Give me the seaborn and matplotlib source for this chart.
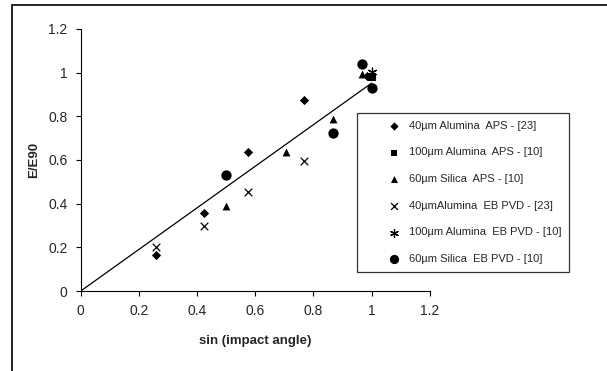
import pandas as pd
import seaborn as sns
import matplotlib.pyplot as plt
from matplotlib.patches import Rectangle

# series
labels = ['40µm Alumina  APS - [23]', '100µm Alumina  APS - [10]', '60µm Silica  APS - [10]',
          '40µmAlumina  EB PVD - [23]', '100µm Alumina  EB PVD - [10]', '60µm Silica  EB PVD - [10]']
x_alu40_aps = [0.259, 0.423, 0.574, 0.766, 0.985]
y_alu40_aps = [0.163, 0.359, 0.638, 0.873, 0.985]
x_alu100_aps = [1.0]
y_alu100_aps = [0.98]
x_sil60_aps = [0.5, 0.707, 0.866, 0.966]
y_sil60_aps = [0.389, 0.638, 0.786, 0.995]
x_alu40_eb = [0.259, 0.423, 0.574, 0.766]
y_alu40_eb = [0.2, 0.298, 0.453, 0.597]
x_alu100_eb = [1.0]
y_alu100_eb = [1.005]
x_sil60_eb = [0.5, 0.866, 0.966, 1.0]
y_sil60_eb = [0.532, 0.725, 1.04, 0.93]
fit_x = [0, 1.0]
fit_slope = 0.952
x_ticks = [0, 0.2, 0.4, 0.6, 0.8, 1, 1.2]
y_ticks = [0, 0.2, 0.4, 0.6, 0.8, 1, 1.2]

xs = [x_alu40_aps, x_alu100_aps, x_sil60_aps, x_alu40_eb, x_alu100_eb, x_sil60_eb]
ys = [y_alu40_aps, y_alu100_aps, y_sil60_aps, y_alu40_eb, y_alu100_eb, y_sil60_eb]
rows = []
for lab, xx, yy in zip(labels, xs, ys):
    for a, b in zip(xx, yy):
        rows.append({'x': a, 'y': b, 'series': lab})
df = pd.DataFrame(rows)

sns.set_style('ticks')
plt.rcParams['font.family'] = ['Liberation Sans', 'DejaVu Sans']

fig = plt.figure(figsize=(6.07, 3.71), dpi=100)
ax = fig.add_axes([0.133, 0.2156, 0.575, 0.7064])

markers = dict(zip(labels, ['D', 's', '^', 'x', (6, 2, 0), 'o']))
sizes = dict(zip(labels, [22, 30, 32, 30, 40, 55]))
for lab in labels:
    sub = df[df.series == lab]
    sns.scatterplot(data=sub, x='x', y='y', marker=markers[lab], s=sizes[lab],
                    color='black', linewidth=0.9 if lab in (labels[3], labels[4]) else 0,
                    edgecolor='black', ax=ax, label=lab, zorder=3)

ax.plot(fit_x, [v * fit_slope for v in fit_x], color='black', lw=0.9, zorder=2)

ax.set_xlim(0, 1.2)
ax.set_ylim(0, 1.2)
ax.set_xticks(x_ticks)
ax.set_xticklabels(['0', '0.2', '0.4', '0.6', '0.8', '1', '1.2'])
ax.set_yticks(y_ticks)
ax.set_yticklabels(['0', '0.2', '0.4', '0.6', '0.8', '1', '1.2'])
ax.tick_params(labelsize=10, length=3.5, width=0.8, color='black', pad=6)
for s in ['left', 'bottom']:
    ax.spines[s].set_linewidth(0.8)
    ax.spines[s].set_color('black')
sns.despine(ax=ax)
ax.set_xlabel('sin (impact angle)', fontsize=9.5, fontweight='bold', labelpad=12)
ax.set_ylabel('E/E90', fontsize=9.5, fontweight='bold', labelpad=6)

leg = ax.legend(loc='upper left', bbox_to_anchor=(357 / 607, 1 - 113 / 371),
                bbox_transform=fig.transFigure, fontsize=8, frameon=True, fancybox=False,
                edgecolor='black', labelspacing=1.5, handlelength=5.2, handletextpad=-1.25,
                borderpad=0.7, borderaxespad=0, markerscale=0.9)
leg.get_frame().set_linewidth(0.9)

fig.patches.append(Rectangle((12 / 607, -0.5), 2, 1.5 - 5 / 371, transform=fig.transFigure,
                             fill=False, edgecolor='black', lw=1.2))

fig.savefig('out.png', dpi=100)
